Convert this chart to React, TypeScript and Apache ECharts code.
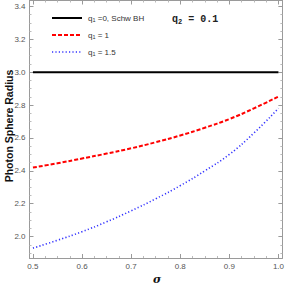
import React, { useEffect, useRef } from "react";
import * as echarts from "echarts";

const sigma = [0.5, 0.55, 0.6, 0.65, 0.7, 0.75, 0.8, 0.85, 0.9, 0.95, 1.0];
const schw = [3.0, 3.0, 3.0, 3.0, 3.0, 3.0, 3.0, 3.0, 3.0, 3.0, 3.0];
const q1One = [2.42, 2.446, 2.475, 2.505, 2.537, 2.574, 2.615, 2.662, 2.715, 2.78, 2.852];
const q1OneHalf = [1.93, 1.978, 2.03, 2.09, 2.157, 2.23, 2.31, 2.40, 2.50, 2.63, 2.78];

const legendNames = [" =0, Schw BH", " = 1", " = 1.5"];

const pairs = (ys: number[]) => sigma.map((s, i) => [s, ys[i]]);

export default function App() {
  const ref = useRef<HTMLDivElement>(null);
  useEffect(() => {
    const chart = echarts.init(ref.current!, undefined, { renderer: "svg" });
    const axisGray = "#9a9a9a";
    const labelColor = "#555";
    const font = "Liberation Sans";
    const xMin = 0.493, xMax = 1.008, yMin = 1.87, yMax = 3.436;
    const fmtX = (v: number) => {
      const r = Math.round(v * 10) / 10;
      return Math.abs(v - r) < 1e-6 ? r.toFixed(1) : "";
    };
    const fmtY = (v: number) => {
      const r = Math.round(v * 5) / 5;
      return Math.abs(v - r) < 1e-6 ? r.toFixed(1) : "";
    };
    const baseAxis = {
      axisLine: { show: true, lineStyle: { color: axisGray, width: 1 } },
      axisTick: { show: true, inside: true, length: 4, lineStyle: { color: axisGray } },
      minorTick: { show: true, splitNumber: 4, length: 2, lineStyle: { color: "#bbb" } },
      splitLine: { show: false },
    };
    const legendY = [18, 35, 52];
    const legendStyles = [
      { stroke: "#000", lineWidth: 2 },
      { stroke: "#ff0000", lineWidth: 2, lineDash: [4, 2] },
      { stroke: "#3333ff", lineWidth: 1.6, lineDash: [1.2, 2.2] },
    ];
    const graphics: any[] = [];
    legendY.forEach((y, i) => {
      graphics.push({
        type: "line",
        shape: { x1: 52, y1: y, x2: 82, y2: y },
        style: legendStyles[i],
      });
      graphics.push({
        type: "text",
        x: 88,
        y: y,
        style: {
          text: "{q|q}{s|1}{t|" + legendNames[i] + "}",
          verticalAlign: "middle",
          rich: {
            q: { fontSize: 8, fontFamily: font, fill: "#333" },
            s: { fontSize: 5.5, fontFamily: font, fill: "#333", padding: [4, 0, 0, 0] },
            t: { fontSize: 8, fontFamily: font, fill: "#333" },
          },
        },
      });
    });
    graphics.push({
      type: "text",
      x: 172,
      y: 19,
      style: {
        text: "{q|q}{s|2}{t| = 0.1}",
        verticalAlign: "middle",
        rich: {
          q: { fontSize: 10, fontFamily: "Liberation Mono", fontWeight: "bold", fill: "#222" },
          s: { fontSize: 7, fontFamily: "Liberation Mono", fontWeight: "bold", fill: "#222", padding: [6, 0, 0, 0] },
          t: { fontSize: 10, fontFamily: "Liberation Mono", fontWeight: "bold", fill: "#222" },
        },
      },
    });
    graphics.push({
      type: "text",
      x: 9,
      y: 126,
      rotation: Math.PI / 2,
      style: {
        text: "Photon Sphere Radius",
        fontSize: 10.5,
        fontWeight: "bold",
        fontFamily: font,
        fill: "#111",
        align: "center",
        verticalAlign: "middle",
      },
    });
    graphics.push({
      type: "text",
      x: 157,
      y: 279,
      style: {
        text: "σ",
        fontSize: 11,
        fontWeight: "bold",
        fontStyle: "italic",
        fontFamily: "DejaVu Serif",
        fill: "#111",
        align: "center",
        verticalAlign: "middle",
      },
    });
    chart.setOption({
      animation: false,
      backgroundColor: "#fff",
      grid: { left: 29.5, right: 1.5, top: 0.5, bottom: 27, containLabel: false },
      xAxis: [
        {
          ...baseAxis,
          type: "value",
          min: xMin,
          max: xMax,
          splitNumber: 5,
          position: "bottom",
          axisLabel: {
            show: true,
            formatter: fmtX,
            showMinLabel: false,
            showMaxLabel: true,
            color: labelColor,
            fontSize: 8,
            fontFamily: font,
            margin: 4,
          },
        },
        {
          ...baseAxis,
          type: "value",
          min: xMin,
          max: xMax,
          splitNumber: 5,
          position: "top",
          axisLabel: { show: false },
        },
      ],
      yAxis: [
        {
          ...baseAxis,
          type: "value",
          min: yMin,
          max: yMax,
          splitNumber: 8,
          position: "left",
          axisLabel: {
            show: true,
            formatter: fmtY,
            showMinLabel: false,
            showMaxLabel: false,
            color: labelColor,
            fontSize: 8,
            fontFamily: font,
            margin: 4,
          },
        },
        {
          ...baseAxis,
          type: "value",
          min: yMin,
          max: yMax,
          splitNumber: 8,
          position: "right",
          axisLabel: { show: false },
        },
      ],
      series: [
        {
          type: "line",
          data: pairs(schw),
          showSymbol: false,
          lineStyle: { color: "#000", width: 2 },
          z: 3,
        },
        {
          type: "line",
          data: pairs(q1One),
          smooth: true,
          showSymbol: false,
          lineStyle: { color: "#ff0000", width: 2, type: [4, 2] },
        },
        {
          type: "line",
          data: pairs(q1OneHalf),
          smooth: true,
          showSymbol: false,
          lineStyle: { color: "#3333ff", width: 1.6, type: [1.2, 2.2] },
        },
      ],
      graphic: graphics,
    });
    return () => chart.dispose();
  }, []);
  return (
    <div
      ref={ref}
      style={{ position: "fixed", left: 0, top: 0, width: 287, height: 285 }}
    />
  );
}
